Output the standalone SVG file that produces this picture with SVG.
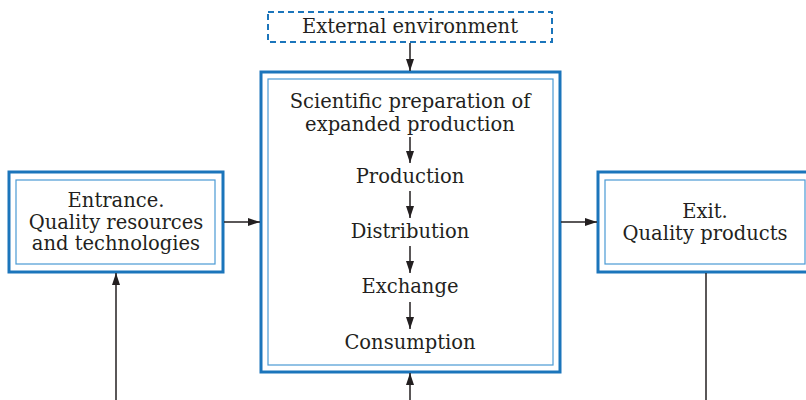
<svg xmlns="http://www.w3.org/2000/svg" width="806" height="400" viewBox="0 0 806 400">
  <defs>
    <marker id="arrow" viewBox="0 0 12 10" refX="12" refY="5" markerWidth="12" markerHeight="10" markerUnits="userSpaceOnUse" orient="auto">
      <path d="M0,1 L12,5 L0,9 Z" fill="#231f20"/>
    </marker>
    <style>
      .outer { fill: #fff; stroke: #1b75bb; stroke-width: 3; }
      .inner { fill: none; stroke: #4a9ad4; stroke-width: 1.2; }
      .dash { fill: #fff; stroke: #1b75bb; stroke-width: 2; stroke-dasharray: 6 4; }
      .lbl { font-family: "DejaVu Serif", "Liberation Serif", serif; font-size: 19.5px; fill: #231f20; text-anchor: middle; }
      .wire { fill: none; stroke: #231f20; stroke-width: 1.5; }
      .flow { marker-end: url(#arrow); }
    </style>
  </defs>
  <rect width="806" height="400" fill="#fff"/>

  <g id="external">
    <rect class="dash" x="268" y="12" width="284" height="30"/>
    <text class="lbl" x="410" y="33">External environment</text>
  </g>

  <g id="economy">
    <rect class="outer" x="261" y="72" width="299" height="300"/>
    <rect class="inner" x="268" y="79" width="285" height="286"/>
    <text class="lbl" x="410" y="108">Scientific preparation of</text>
    <text class="lbl" x="410" y="131">expanded production</text>
    <text class="lbl" x="410" y="183">Production</text>
    <text class="lbl" x="410" y="238">Distribution</text>
    <text class="lbl" x="410" y="293">Exchange</text>
    <text class="lbl" x="410" y="349">Consumption</text>
  </g>

  <g id="entrance">
    <rect class="outer" x="9" y="172" width="214" height="100"/>
    <rect class="inner" x="16" y="180" width="199" height="84"/>
    <text class="lbl" x="116" y="207">Entrance.</text>
    <text class="lbl" x="116" y="229">Quality resources</text>
    <text class="lbl" x="116" y="250">and technologies</text>
  </g>

  <g id="exit">
    <rect class="outer" x="598" y="172" width="212" height="100"/>
    <rect class="inner" x="605" y="180" width="200" height="84"/>
    <text class="lbl" x="705" y="218">Exit.</text>
    <text class="lbl" x="705" y="240">Quality products</text>
  </g>

  <g id="connectors">
    <path class="wire flow" d="M410,43 V71"/>
    <path class="wire flow" d="M224,222 H260"/>
    <path class="wire flow" d="M561,222 H597"/>
    <path class="wire flow" d="M116,400 V273"/>
    <path class="wire" d="M706,273 V400"/>
    <path class="wire flow" d="M410,400 V373"/>
    <path class="wire flow" d="M410,137 V163"/>
    <path class="wire flow" d="M410,191 V218"/>
    <path class="wire flow" d="M410,246 V273"/>
    <path class="wire flow" d="M410,302 V329"/>
  </g>
</svg>
